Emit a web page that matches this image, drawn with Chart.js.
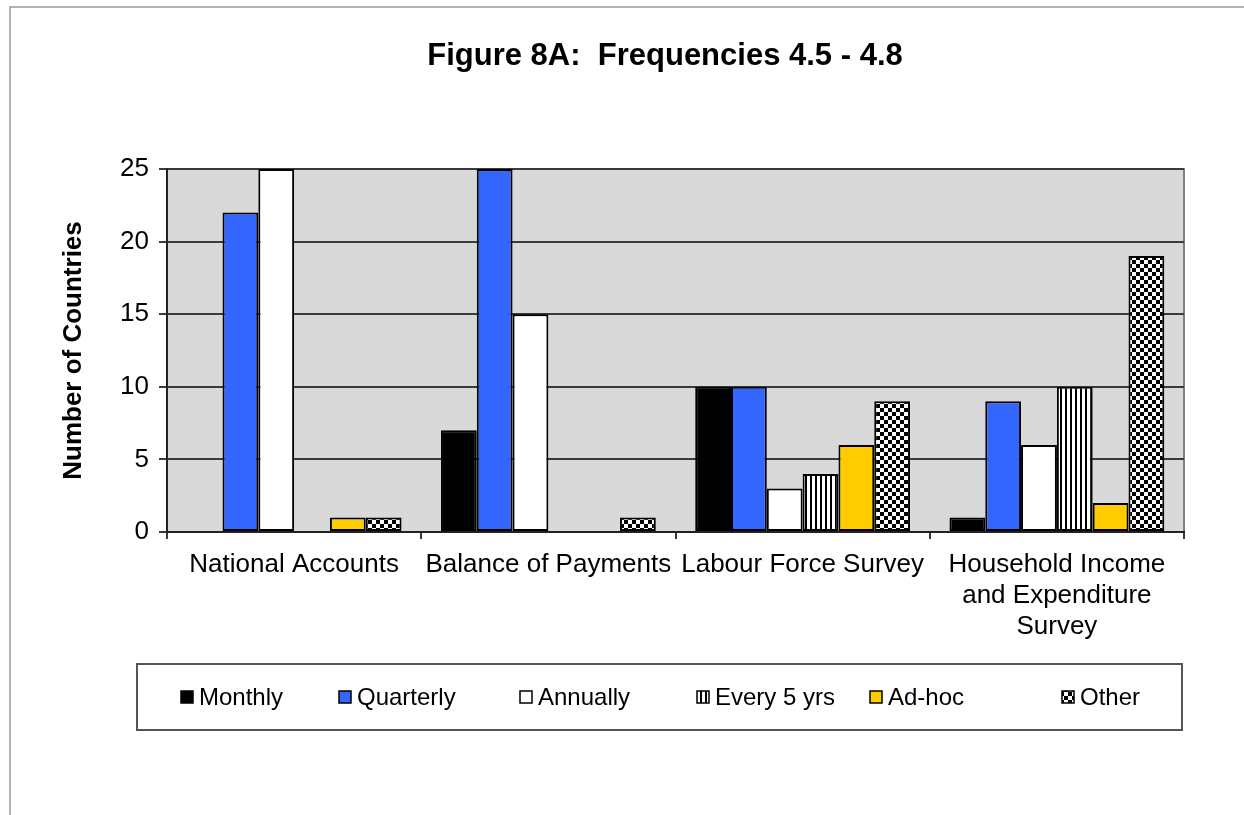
<!DOCTYPE html>
<html>
<head>
<meta charset="utf-8">
<script src="https://cdn.jsdelivr.net/npm/chart.js@4.4.1/dist/chart.umd.min.js"></script>
<style>
    html, body { margin: 0; padding: 0; background: #fff; }
    #wrap { width: 1244px; height: 815px; position: relative; }
</style>
</head>
<body>
<div id="wrap"><canvas id="grafico"></canvas></div>
<script>
// Figure 8A: frequencies 4.5 - 4.8

const titulo = "Figure 8A:  Frequencies 4.5 - 4.8";
const categorias = [
    "National Accounts",
    "Balance of Payments",
    "Labour Force Survey",
    ["Household Income", "and Expenditure", "Survey"]
];
const series = ["Monthly", "Quarterly", "Annually", "Every 5 yrs", "Ad-hoc", "Other"];

const monthly   = [0, 7, 10, 1];
const quarterly = [22, 25, 10, 9];
const annually  = [25, 15, 3, 6];
const every5    = [0, 0, 4, 10];
const adhoc     = [1, 0, 6, 2];
const other     = [1, 1, 9, 19];

const yTicks = [0, 5, 10, 15, 20, 25];

const FONTE = "'Liberation Sans', Arial, sans-serif";

// hachuras
function listras() {
    const c = document.createElement("canvas");
    c.width = 5; c.height = 5;
    const x = c.getContext("2d");
    x.fillStyle = "#fff"; x.fillRect(0, 0, 5, 5);
    x.fillStyle = "#000"; x.fillRect(0, 0, 2, 5);
    return x.createPattern(c, "repeat");
}
function xadrez() {
    const c = document.createElement("canvas");
    c.width = 8; c.height = 8;
    const x = c.getContext("2d");
    x.fillStyle = "#fff"; x.fillRect(0, 0, 8, 8);
    x.fillStyle = "#000";
    x.fillRect(0, 0, 4, 4);
    x.fillRect(4, 4, 4, 4);
    return x.createPattern(c, "repeat");
}

const cores = ["#000000", "#3366FF", "#FFFFFF", listras(), "#FFCC00", xadrez()];
const valores = [monthly, quarterly, annually, every5, adhoc, other];

// fundo cinza, moldura, título e legenda
const decoracao = {
    id: "decoracao",
    beforeDraw(chart) {
        const { ctx, chartArea: a } = chart;
        ctx.save();
        ctx.fillStyle = "#fff";
        ctx.fillRect(0, 0, chart.width, chart.height);
        ctx.strokeStyle = "#9a9a9a";
        ctx.lineWidth = 1.5;
        ctx.beginPath();
        ctx.moveTo(10, chart.height);
        ctx.lineTo(10, 7);
        ctx.lineTo(chart.width, 7);
        ctx.stroke();
        ctx.fillStyle = "#D9D9D9";
        ctx.fillRect(a.left, a.top, a.right - a.left, a.bottom - a.top);
        ctx.strokeStyle = "#808080";
        ctx.lineWidth = 2;
        ctx.beginPath();
        ctx.moveTo(a.left, a.top);
        ctx.lineTo(a.right, a.top);
        ctx.lineTo(a.right, a.bottom);
        ctx.stroke();
        ctx.restore();
    },
    afterDraw(chart) {
        const ctx = chart.ctx;
        ctx.save();
        ctx.fillStyle = "#000";
        ctx.font = "bold 31px " + FONTE;
        ctx.textAlign = "center";
        ctx.textBaseline = "middle";
        ctx.fillText(titulo, 665, 56);

        // legenda
        ctx.strokeStyle = "#555";
        ctx.lineWidth = 2;
        ctx.strokeRect(137, 664, 1045, 66);
        const xs = [181, 339, 520, 697, 870, 1062];
        ctx.font = "24px " + FONTE;
        ctx.textAlign = "left";
        chart.data.datasets.forEach((d, i) => {
            ctx.fillStyle = d.backgroundColor;
            ctx.fillRect(xs[i], 691, 12, 12);
            ctx.strokeStyle = "#000";
            ctx.lineWidth = 1.5;
            ctx.strokeRect(xs[i], 691, 12, 12);
            ctx.fillStyle = "#000";
            ctx.fillText(d.label, xs[i] + 18, 698);
        });
        ctx.restore();
    }
};

new Chart(document.getElementById("grafico"), {
    type: "bar",
    data: {
        labels: categorias,
        datasets: series.map((s, i) => ({
            label: s,
            data: valores[i],
            backgroundColor: cores[i],
            borderColor: "#000",
            borderWidth: 2,
            borderSkipped: false,
            categoryPercentage: 0.845,
            barPercentage: 1.0
        }))
    },
    options: {
        responsive: true, maintainAspectRatio: false,
        animation: false,
        layout: { padding: { left: 58, right: 60, top: 169, bottom: 163 } },
        plugins: {
            legend: { display: false },
            title: { display: false },
            tooltip: { enabled: false }
        },
        scales: {
            y: {
                min: 0, max: 25,
                afterBuildTicks: s => { s.ticks = yTicks.map(v => ({ value: v })); },
                afterFit: s => { s.width = 109; },
                ticks: { color: "#000", padding: 10, font: { family: FONTE, size: 26 } },
                grid: { color: "#3a3a3a", lineWidth: 2, tickLength: 8 },
                border: { color: "#222", width: 2 },
                title: {
                    display: true, text: "Number of Countries", color: "#000",
                    font: { family: FONTE, size: 26, weight: "bold" },
                    padding: { top: 0, bottom: 0 }
                }
            },
            x: {
                afterFit: s => { s.height = 120; },
                ticks: {
                    color: "#000", padding: 10, maxRotation: 0, autoSkip: false,
                    font: { family: FONTE, size: 26, lineHeight: 1.2 }
                },
                grid: { drawOnChartArea: false, color: "#3a3a3a", lineWidth: 2, tickLength: 7 },
                border: { color: "#222", width: 2 }
            }
        }
    },
    plugins: [decoracao]
});
</script>
</body>
</html>
